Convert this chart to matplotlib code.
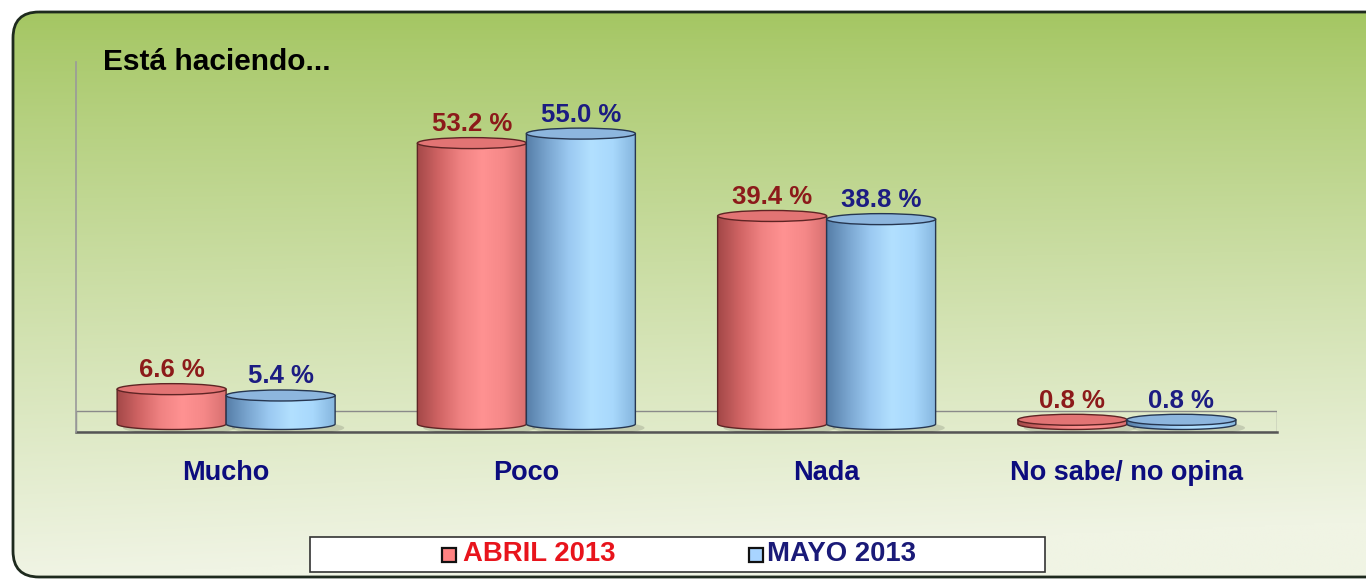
import numpy as np
import matplotlib
matplotlib.use('Agg')
import matplotlib.pyplot as plt
from matplotlib.patches import Ellipse, Polygon, Rectangle, FancyBboxPatch
from matplotlib.colors import LinearSegmentedColormap

# ---------------- data ----------------
categories = ['Mucho', 'Poco', 'Nada', 'No sabe/ no opina']
abril_2013 = [6.6, 53.2, 39.4, 0.8]
mayo_2013 = [5.4, 55.0, 38.8, 0.8]
series_names = ['ABRIL 2013', 'MAYO 2013']
title = 'Está haciendo...'

# ---------------- figure ----------------
W, H = 1366, 580
DPI = 100
plt.rcParams['font.family'] = ['Liberation Sans', 'DejaVu Sans']
fig = plt.figure(figsize=(W / DPI, H / DPI), dpi=DPI)
fig.patch.set_facecolor('white')

# background panel (pixel coordinates)
bg = fig.add_axes([0, 0, 1, 1])
bg.set_xlim(0, W)
bg.set_ylim(H, 0)
bg.axis('off')
yy, xx = np.mgrid[0:1:300j, 0:1:400j]
top_c = np.array([164, 198, 98]) / 255
bot_c = np.array([240, 244, 228]) / 255
t = np.clip(yy ** 0.9 + 0.10 * xx * yy, 0, 1)
img = top_c[None, None, :] * (1 - t[..., None]) + bot_c[None, None, :] * t[..., None]
panel = FancyBboxPatch((13, 12), W + 40 - 13, 565,
                       boxstyle='round,pad=0,rounding_size=26',
                       facecolor='none', edgecolor='#1e2a1e', lw=2, zorder=2)
bg.add_patch(panel)
bg.imshow(img, extent=(13, W + 40, 577, 12), aspect='auto', zorder=1,
          clip_path=panel, interpolation='bilinear')
bg.set_xlim(0, W)
bg.set_ylim(H, 0)

# legend box
bg.add_patch(Rectangle((310, 537), 735, 35, facecolor='white', edgecolor='#333333', lw=1.2, zorder=3))
leg_items = [(442, 463, '#ff8282', '#e8141c'), (749, 767, '#a8d4ff', '#1a1a78')]
for (sx, tx, fc, tc), name in zip(leg_items, series_names):
    bg.add_patch(Rectangle((sx, 547.5), 14, 14, facecolor=fc, edgecolor='#111111', lw=1.6, zorder=4))
    bg.text(tx, 561, name, ha='left', va='baseline', fontsize=19.8, fontweight='bold',
            color=tc, zorder=5)

# title
fig.text(103 / W, 1 - 70 / H, title, ha='left', va='baseline', fontsize=21.5,
         fontweight='bold', color='black')

# ---------------- main axes ----------------
k = 5.28  # pixels per percentage point
ax = fig.add_axes([76 / W, (H - 432) / H, 1201 / W, 370 / H])
ax.patch.set_alpha(0)
for s in ['top', 'right', 'bottom']:
    ax.spines[s].set_visible(False)
ax.spines['left'].set_color('#9a9a9a')
ax.spines['left'].set_linewidth(1.2)
ax.set_yticks([])

# floor
ax.add_patch(Rectangle((0, 0), 1, 21 / 370, transform=ax.transAxes, facecolor='none',
                       edgecolor='#8a8a8a', lw=1.0, zorder=1))
ax.plot([0, 1], [0, 0], transform=ax.transAxes, color='#555555', lw=1.8, zorder=1,
        clip_on=False)

x = np.arange(len(categories))
bw = 109 / 300.25
eh = 11 / k  # ellipse height in data units

red_cmap = LinearSegmentedColormap.from_list('r', ['#a44848', '#d06464', '#f08282', '#ff9292', '#f58888', '#d87070'])
blue_cmap = LinearSegmentedColormap.from_list('b', ['#567ea8', '#7aa6d0', '#9ccaf2', '#b2e0ff', '#a8d8fc', '#86b6de'])

bars_a = ax.bar(x - bw / 2, abril_2013, bw, color='none', edgecolor='none')
bars_m = ax.bar(x + bw / 2, mayo_2013, bw, color='none', edgecolor='none')


def cylinder(patch, cmap, top_face, edge, z):
    x0 = patch.get_x()
    w = patch.get_width()
    v = patch.get_height()
    cx = x0 + w / 2
    a, b = w / 2, eh / 2
    tt = np.linspace(np.pi, 2 * np.pi, 80)
    arc = np.column_stack([cx + a * np.cos(tt), b * np.sin(tt)])
    verts = np.vstack([[x0, v], arc, [x0 + w, v]])
    # shadow
    ax.add_patch(Ellipse((cx + 0.025, -b * 0.7), w * 1.03, eh * 1.2, facecolor='black',
                         edgecolor='none', alpha=0.13, zorder=z - 0.5))
    body = Polygon(verts, closed=True, facecolor='none', edgecolor=edge, lw=1.0, zorder=z + 0.2)
    ax.add_patch(body)
    ax.imshow(np.linspace(0, 1, 256)[None, :], cmap=cmap, extent=[x0, x0 + w, -b, v],
              aspect='auto', zorder=z, clip_path=body, interpolation='bilinear')
    ax.add_patch(Ellipse((cx, v), w, eh, facecolor=top_face, edgecolor=edge, lw=1.0,
                         zorder=z + 0.3))


for i in range(len(categories)):
    cylinder(bars_a[i], red_cmap, '#e27474', '#5e2424', 3)
    cylinder(bars_m[i], blue_cmap, '#8db6de', '#263650', 4)

# value labels
for bars, vals, col in [(bars_a, abril_2013, '#8c1a1a'), (bars_m, mayo_2013, '#1c1c82')]:
    for p, v in zip(bars, vals):
        ax.annotate(f'{v:.1f} %', xy=(p.get_x() + p.get_width() / 2, v),
                    xytext=(0, 12 * 72 / DPI), textcoords='offset points',
                    ha='center', va='baseline', fontsize=18.5, fontweight='bold',
                    color=col, zorder=6)

ax.set_xticks(x, categories)
ax.tick_params(axis='x', length=0, pad=47.5 * 72 / DPI)
for lab in ax.get_xticklabels():
    lab.set_va('baseline')
    lab.set_fontsize(19.5)
    lab.set_fontweight('bold')
    lab.set_color('#0c0c7e')

ax.set_xlim(-0.5, 3.5)
ax.set_ylim(-8 / k, 362 / k)

fig.savefig('out.png', dpi=DPI, facecolor=fig.get_facecolor())
